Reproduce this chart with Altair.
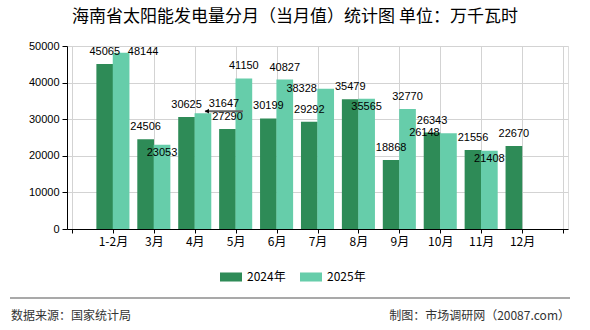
import altair as alt
import pandas as pd

# Monthly solar generation in Hainan, 10k kWh
months = ["1-2月", "3月", "4月", "5月", "6月", "7月", "8月", "9月", "10月", "11月", "12月"]
gen_2024 = [45065, 24506, 30625, 27290, 30199, 29292, 35479, 18868, 26343, 21556, 22670]
gen_2025 = [48144, 23053, 31647, 41150, 40827, 38328, 35565, 32770, 26148, 21408]
series = ["2024年", "2025年"]
colors = ["#2E8B57", "#66CDAA"]
y_ticks = [0, 10000, 20000, 30000, 40000, 50000]

# where each 2025 value label sits relative to the top of its bar
place_2025 = ["right", "inside", "upper-right", "above", "above",
              "left", "inside", "above", "left", "inside"]
place_offsets = {
    "above": (0, -12),
    "inside": (0, 8),
    "right": (22, -1),
    "left": (-24, 0),
    "upper-right": (21, -9),
}

rows = []
for i, m in enumerate(months):
    rows.append({"month": m, "idx": i + 1, "series": series[0],
                 "value": gen_2024[i], "place": "above"})
for i, v in enumerate(gen_2025):
    rows.append({"month": months[i], "idx": i + 1, "series": series[1],
                 "value": v, "place": place_2025[i]})
df = pd.DataFrame(rows)

W, H = 501, 183
BAR = 16.7
HALF = 0.2  # half of a bar, in category units

CJK = "Noto Sans CJK SC"
NUM = "Liberation Sans"

base = alt.Chart(df).transform_calculate(
    xpos=f"datum.idx + (datum.series == '{series[0]}' ? -{HALF} : {HALF})"
)

label_expr = "[" + ",".join(f"'{m}'" for m in [""] + months + [""]) + "][datum.value]"

x_enc = alt.X(
    "xpos:Q",
    scale=alt.Scale(domain=[0, 12], nice=False, zero=False),
    axis=alt.Axis(
        values=list(range(13)), labelExpr=label_expr, title=None,
        grid=True, gridColor="#d3d3d3", gridWidth=1,
        domainColor="#000", tickColor="#000", tickSize=4,
        labelPadding=3, labelFont=CJK, labelFontSize=12, labelColor="#000",
        labelFlush=False, labelOverlap=False,
    ),
)
y_enc = alt.Y(
    "value:Q",
    scale=alt.Scale(domain=[0, 50000], nice=False),
    axis=alt.Axis(
        values=y_ticks, format="d", title=None,
        grid=True, gridColor="#d3d3d3", gridWidth=1,
        domainColor="#000", tickColor="#000", tickSize=5,
        labelPadding=3, labelFont=NUM, labelFontSize=11, labelColor="#000",
    ),
)

bars = base.mark_bar(size=BAR).encode(
    x=x_enc,
    y=y_enc,
    color=alt.Color(
        "series:N",
        scale=alt.Scale(domain=series, range=colors),
        legend=alt.Legend(
            title=None, orient="none", legendX=153, legendY=220,
            direction="horizontal",
            symbolType="M-1,-0.41L1,-0.41L1,0.41L-1,0.41Z",
            symbolSize=484, symbolStrokeWidth=0, symbolOpacity=1,
            labelFont=CJK, labelFontSize=12, labelColor="#000",
            labelOffset=5, columnPadding=14,
        ),
    ),
)

label_layers = []
for name, (dx, dy) in place_offsets.items():
    label_layers.append(
        base.transform_filter(f"datum.place == '{name}'")
        .mark_text(dx=dx, dy=dy, font=NUM, fontSize=11, color="#000", baseline="middle")
        .encode(x=x_enc, y=y_enc, text=alt.Text("value:Q", format="d"))
    )

leader = base.transform_filter("datum.place == 'upper-right'").mark_rule(
    xOffset=2, x2Offset=40, yOffset=-2, color="#666", strokeWidth=2
).encode(x=x_enc, x2="xpos:Q", y=y_enc)
leader_head = base.transform_filter("datum.place == 'upper-right'").mark_point(
    shape="triangle-left", filled=True, size=22, color="#000", opacity=1,
    xOffset=4, yOffset=-2
).encode(x=x_enc, y=y_enc)

title = alt.Chart(pd.DataFrame({"t": ["海南省太阳能发电量分月（当月值）统计图 单位：万千瓦时"]})).mark_text(
    font=CJK, fontSize=17, color="#000", align="center", baseline="middle"
).encode(x=alt.value(228), y=alt.value(-29), text="t:N")

footer_line = alt.Chart(pd.DataFrame({"a": [0]})).mark_rule(
    color="#8c8c8c", strokeWidth=1.5
).encode(x=alt.value(-57), x2=alt.value(503), y=alt.value(252))

footer_left = alt.Chart(pd.DataFrame({"t": ["数据来源：国家统计局"]})).mark_text(
    font=CJK, fontSize=12, color="#333", align="left", baseline="middle"
).encode(x=alt.value(-56), y=alt.value(270), text="t:N")

footer_right = alt.Chart(pd.DataFrame({"t": ["制图：市场调研网（20087.com）"]})).mark_text(
    font=CJK, fontSize=12, color="#333", align="right", baseline="middle"
).encode(x=alt.value(503), y=alt.value(270), text="t:N")

chart = alt.layer(
    bars, *label_layers, leader, leader_head, title, footer_line, footer_left, footer_right
).properties(
    width=W, height=H,
    padding={"left": 67, "top": 46, "right": 22, "bottom": 101},
    autosize="none",
).configure_view(stroke=None).configure(background="#ffffff")

chart.save("out.html", embed_options={"renderer": "svg", "actions": False})
